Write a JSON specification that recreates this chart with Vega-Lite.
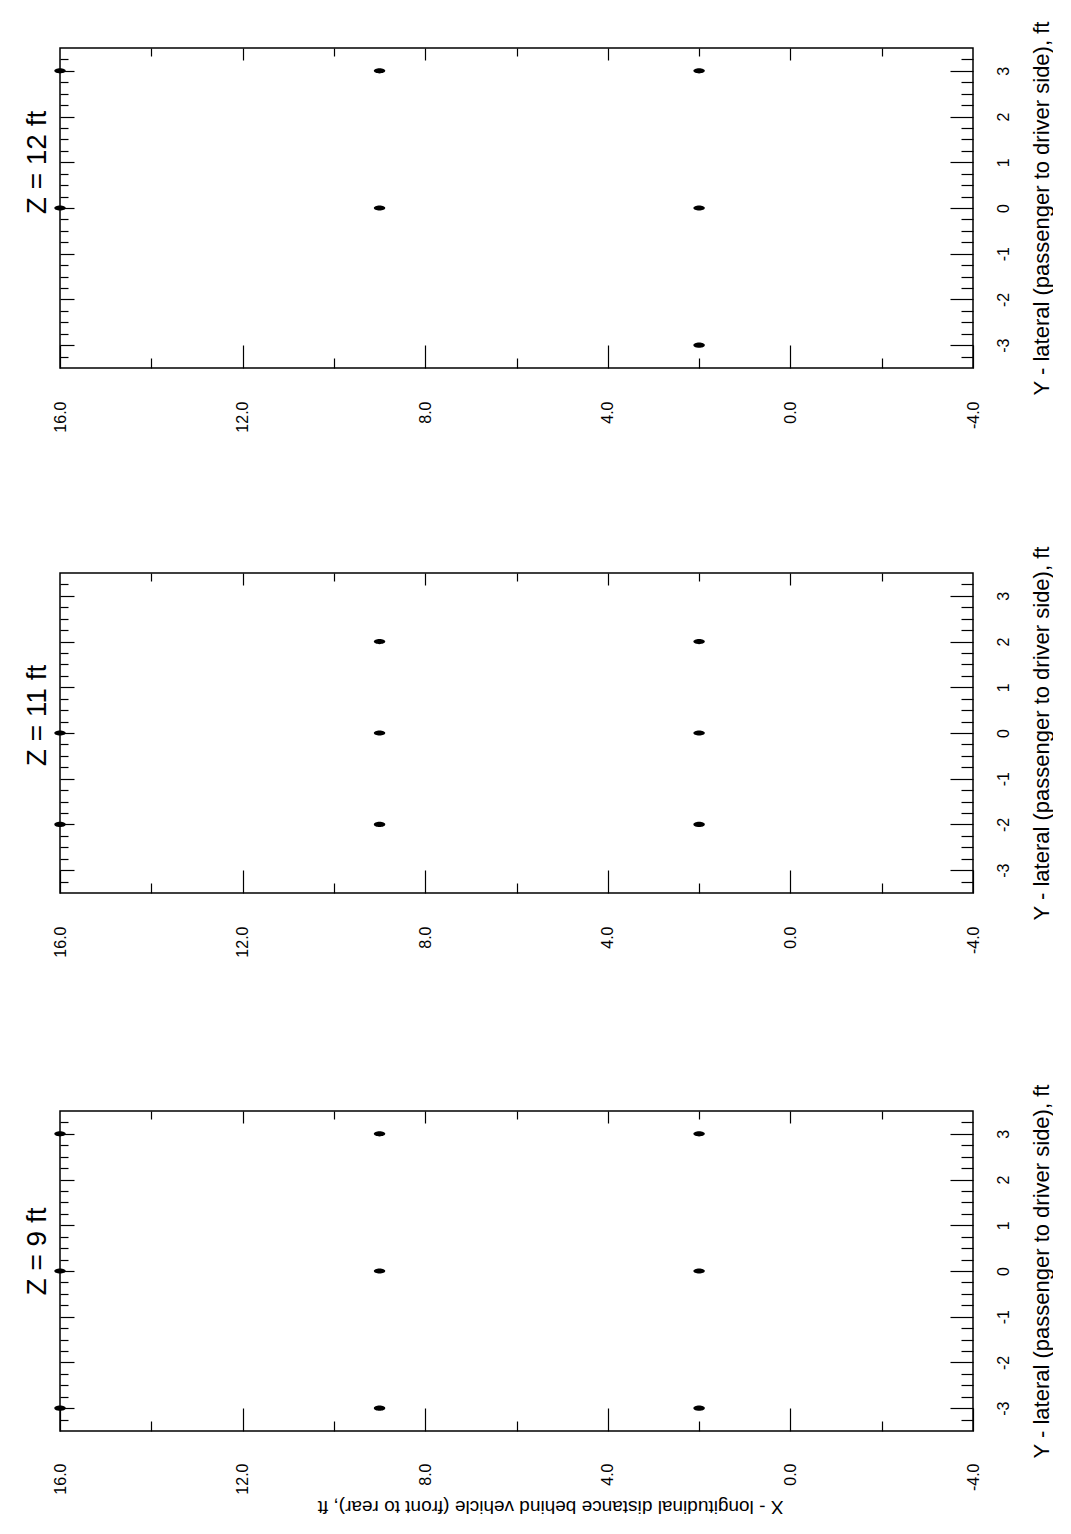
{
  "$schema": "https://vega.github.io/schema/vega-lite/v6.json",
  "background": "white",
  "padding": {"left": 22, "top": 20, "right": 0, "bottom": 24},
  "config": {
    "view": {"stroke": "black", "strokeWidth": 1.5},
    "font": "Liberation Sans",
    "axis": {
      "domain": false, "grid": false, "tickColor": "black", "tickWidth": 1.2,
      "labelColor": "black", "titleColor": "black", "labelFont": "Liberation Sans",
      "titleFont": "Liberation Sans", "titleFontWeight": "normal", "labelFlush": false, "labelOverlap": false
    }
  },
  "datasets": {
    "z12": [
      {"x": 16, "y": 3}, {"x": 16, "y": 0},
      {"x": 9, "y": 3}, {"x": 9, "y": 0},
      {"x": 2, "y": 3}, {"x": 2, "y": 0}, {"x": 2, "y": -3}
    ],
    "z11": [
      {"x": 16, "y": 0}, {"x": 16, "y": -2},
      {"x": 9, "y": 2}, {"x": 9, "y": 0}, {"x": 9, "y": -2},
      {"x": 2, "y": 2}, {"x": 2, "y": 0}, {"x": 2, "y": -2}
    ],
    "z9": [
      {"x": 16, "y": 3}, {"x": 16, "y": 0}, {"x": 16, "y": -3},
      {"x": 9, "y": 3}, {"x": 9, "y": 0}, {"x": 9, "y": -3},
      {"x": 2, "y": 3}, {"x": 2, "y": 0}, {"x": 2, "y": -3}
    ]
  },
  "bounds": "flush",
  "spacing": 205,
  "vconcat": [
    {
      "width": 913, "height": 320,
      "data": {"name": "z12"},
      "resolve": {"axis": {"x": "independent", "y": "independent"}},
      "layer": [
        {
          "mark": {"type": "point", "filled": true, "color": "black", "opacity": 1, "size": 130, "shape": "M-1,0A1,0.45,0,1,0,1,0A1,0.45,0,1,0,-1,0Z"},
          "encoding": {
            "x": {"field": "x", "type": "quantitative", "scale": {"domain": [-4, 16], "reverse": true, "nice": false, "zero": false},
              "axis": {"orient": "bottom", "values": [-4, 0, 4, 8, 12, 16], "tickSize": -23, "labelPadding": 56, "labelAngle": -90, "labelAlign": "right", "labelBaseline": "middle", "format": ".1f", "labelExpr": "replace(datum.label, '−', '-')", "labelFontSize": 16, "title": null}},
            "y": {"field": "y", "type": "quantitative", "scale": {"domain": [-3.5, 3.5], "nice": false, "zero": false},
              "axis": {"orient": "right", "values": [-3, -2, -1, 0, 1, 2, 3], "tickSize": -23, "labelPadding": 45, "labelAngle": -90, "labelAlign": "center", "labelBaseline": "top", "labelExpr": "replace(datum.label, '−', '-')", "labelFontSize": 16, "title": "Y - lateral (passenger to driver side), ft", "titleAngle": -90, "titleAlign": "center", "titleBaseline": "top", "titlePadding": 20, "titleFontSize": 22}}
          }
        },
        {
          "mark": {"type": "point", "opacity": 0, "size": 0},
          "encoding": {
            "x": {"field": "x", "type": "quantitative", "axis": {"orient": "bottom", "values": [-2, 2, 6, 10, 14], "tickSize": -10, "labels": false, "title": null}},
            "y": {"field": "y", "type": "quantitative", "axis": {"orient": "right", "values": [-3.25, -2.75, -2.5, -2.25, -1.75, -1.5, -1.25, -0.75, -0.5, -0.25, 0.25, 0.5, 0.75, 1.25, 1.5, 1.75, 2.25, 2.5, 2.75, 3.25], "tickSize": -12, "labels": false, "title": null}}
          }
        },
        {
          "mark": {"type": "point", "opacity": 0, "size": 0},
          "encoding": {
            "x": {"field": "x", "type": "quantitative", "axis": {"orient": "top", "values": [0, 4, 8, 12], "tickSize": -12, "labels": false, "title": null}},
            "y": {"field": "y", "type": "quantitative", "axis": {"orient": "left", "values": [-3, -2, -1, 0, 1, 2, 3], "tickSize": -14, "labels": false, "title": "Z = 12 ft", "titleAngle": -90, "titleAlign": "center", "titleBaseline": "bottom", "titlePadding": 8, "titleFontSize": 28, "titleY": 114}}
          }
        },
        {
          "mark": {"type": "point", "opacity": 0, "size": 0},
          "encoding": {
            "x": {"field": "x", "type": "quantitative", "axis": {"orient": "top", "values": [-2, 2, 6, 10, 14], "tickSize": -8, "labels": false, "title": null}},
            "y": {"field": "y", "type": "quantitative", "axis": {"orient": "left", "values": [-3.25, -2.75, -2.5, -2.25, -1.75, -1.5, -1.25, -0.75, -0.5, -0.25, 0.25, 0.5, 0.75, 1.25, 1.5, 1.75, 2.25, 2.5, 2.75, 3.25], "tickSize": -8, "labels": false, "title": null}}
          }
        }
      ]
    },
    {
      "bounds": "flush",
      "spacing": 218,
      "vconcat": [
        {
          "width": 913, "height": 320,
          "data": {"name": "z11"},
          "resolve": {"axis": {"x": "independent", "y": "independent"}},
          "layer": [
            {
              "mark": {"type": "point", "filled": true, "color": "black", "opacity": 1, "size": 130, "shape": "M-1,0A1,0.45,0,1,0,1,0A1,0.45,0,1,0,-1,0Z"},
              "encoding": {
                "x": {"field": "x", "type": "quantitative", "scale": {"domain": [-4, 16], "reverse": true, "nice": false, "zero": false},
                  "axis": {"orient": "bottom", "values": [-4, 0, 4, 8, 12, 16], "tickSize": -23, "labelPadding": 56, "labelAngle": -90, "labelAlign": "right", "labelBaseline": "middle", "format": ".1f", "labelExpr": "replace(datum.label, '−', '-')", "labelFontSize": 16, "title": null}},
                "y": {"field": "y", "type": "quantitative", "scale": {"domain": [-3.5, 3.5], "nice": false, "zero": false},
                  "axis": {"orient": "right", "values": [-3, -2, -1, 0, 1, 2, 3], "tickSize": -23, "labelPadding": 45, "labelAngle": -90, "labelAlign": "center", "labelBaseline": "top", "labelExpr": "replace(datum.label, '−', '-')", "labelFontSize": 16, "title": "Y - lateral (passenger to driver side), ft", "titleAngle": -90, "titleAlign": "center", "titleBaseline": "top", "titlePadding": 20, "titleFontSize": 22}}
              }
            },
            {
              "mark": {"type": "point", "opacity": 0, "size": 0},
              "encoding": {
                "x": {"field": "x", "type": "quantitative", "axis": {"orient": "bottom", "values": [-2, 2, 6, 10, 14], "tickSize": -10, "labels": false, "title": null}},
                "y": {"field": "y", "type": "quantitative", "axis": {"orient": "right", "values": [-3.25, -2.75, -2.5, -2.25, -1.75, -1.5, -1.25, -0.75, -0.5, -0.25, 0.25, 0.5, 0.75, 1.25, 1.5, 1.75, 2.25, 2.5, 2.75, 3.25], "tickSize": -12, "labels": false, "title": null}}
              }
            },
            {
              "mark": {"type": "point", "opacity": 0, "size": 0},
              "encoding": {
                "x": {"field": "x", "type": "quantitative", "axis": {"orient": "top", "values": [0, 4, 8, 12], "tickSize": -12, "labels": false, "title": null}},
                "y": {"field": "y", "type": "quantitative", "axis": {"orient": "left", "values": [-3, -2, -1, 0, 1, 2, 3], "tickSize": -14, "labels": false, "title": "Z = 11 ft", "titleAngle": -90, "titleAlign": "center", "titleBaseline": "bottom", "titlePadding": 8, "titleFontSize": 28, "titleY": 142}}
              }
            },
            {
              "mark": {"type": "point", "opacity": 0, "size": 0},
              "encoding": {
                "x": {"field": "x", "type": "quantitative", "axis": {"orient": "top", "values": [-2, 2, 6, 10, 14], "tickSize": -8, "labels": false, "title": null}},
                "y": {"field": "y", "type": "quantitative", "axis": {"orient": "left", "values": [-3.25, -2.75, -2.5, -2.25, -1.75, -1.5, -1.25, -0.75, -0.5, -0.25, 0.25, 0.5, 0.75, 1.25, 1.5, 1.75, 2.25, 2.5, 2.75, 3.25], "tickSize": -8, "labels": false, "title": null}}
              }
            }
          ]
        },
        {
          "width": 913, "height": 320,
          "data": {"name": "z9"},
          "resolve": {"axis": {"x": "independent", "y": "independent"}},
          "layer": [
            {
              "mark": {"type": "point", "filled": true, "color": "black", "opacity": 1, "size": 130, "shape": "M-1,0A1,0.45,0,1,0,1,0A1,0.45,0,1,0,-1,0Z"},
              "encoding": {
                "x": {"field": "x", "type": "quantitative", "scale": {"domain": [-4, 16], "reverse": true, "nice": false, "zero": false},
                  "axis": {"orient": "bottom", "values": [-4, 0, 4, 8, 12, 16], "tickSize": -23, "labelPadding": 55, "labelAngle": -90, "labelAlign": "right", "labelBaseline": "middle", "format": ".1f", "labelExpr": "replace(datum.label, '−', '-')", "labelFontSize": 16, "title": "X - longitudinal distance behind vehicle (front to rear), ft", "titleAngle": 180, "titleAlign": "center", "titleBaseline": "bottom", "titlePadding": 2, "titleFontSize": 19, "titleX": 490}},
                "y": {"field": "y", "type": "quantitative", "scale": {"domain": [-3.5, 3.5], "nice": false, "zero": false},
                  "axis": {"orient": "right", "values": [-3, -2, -1, 0, 1, 2, 3], "tickSize": -23, "labelPadding": 45, "labelAngle": -90, "labelAlign": "center", "labelBaseline": "top", "labelExpr": "replace(datum.label, '−', '-')", "labelFontSize": 16, "title": "Y - lateral (passenger to driver side), ft", "titleAngle": -90, "titleAlign": "center", "titleBaseline": "top", "titlePadding": 20, "titleFontSize": 22}}
              }
            },
            {
              "mark": {"type": "point", "opacity": 0, "size": 0},
              "encoding": {
                "x": {"field": "x", "type": "quantitative", "axis": {"orient": "bottom", "values": [-2, 2, 6, 10, 14], "tickSize": -10, "labels": false, "title": null}},
                "y": {"field": "y", "type": "quantitative", "axis": {"orient": "right", "values": [-3.25, -2.75, -2.5, -2.25, -1.75, -1.5, -1.25, -0.75, -0.5, -0.25, 0.25, 0.5, 0.75, 1.25, 1.5, 1.75, 2.25, 2.5, 2.75, 3.25], "tickSize": -12, "labels": false, "title": null}}
              }
            },
            {
              "mark": {"type": "point", "opacity": 0, "size": 0},
              "encoding": {
                "x": {"field": "x", "type": "quantitative", "axis": {"orient": "top", "values": [0, 4, 8, 12], "tickSize": -12, "labels": false, "title": null}},
                "y": {"field": "y", "type": "quantitative", "axis": {"orient": "left", "values": [-3, -2, -1, 0, 1, 2, 3], "tickSize": -14, "labels": false, "title": "Z = 9 ft", "titleAngle": -90, "titleAlign": "center", "titleBaseline": "bottom", "titlePadding": 8, "titleFontSize": 28, "titleY": 140}}
              }
            },
            {
              "mark": {"type": "point", "opacity": 0, "size": 0},
              "encoding": {
                "x": {"field": "x", "type": "quantitative", "axis": {"orient": "top", "values": [-2, 2, 6, 10, 14], "tickSize": -8, "labels": false, "title": null}},
                "y": {"field": "y", "type": "quantitative", "axis": {"orient": "left", "values": [-3.25, -2.75, -2.5, -2.25, -1.75, -1.5, -1.25, -0.75, -0.5, -0.25, 0.25, 0.5, 0.75, 1.25, 1.5, 1.75, 2.25, 2.5, 2.75, 3.25], "tickSize": -8, "labels": false, "title": null}}
              }
            }
          ]
        }
      ]
    }
  ]
}
